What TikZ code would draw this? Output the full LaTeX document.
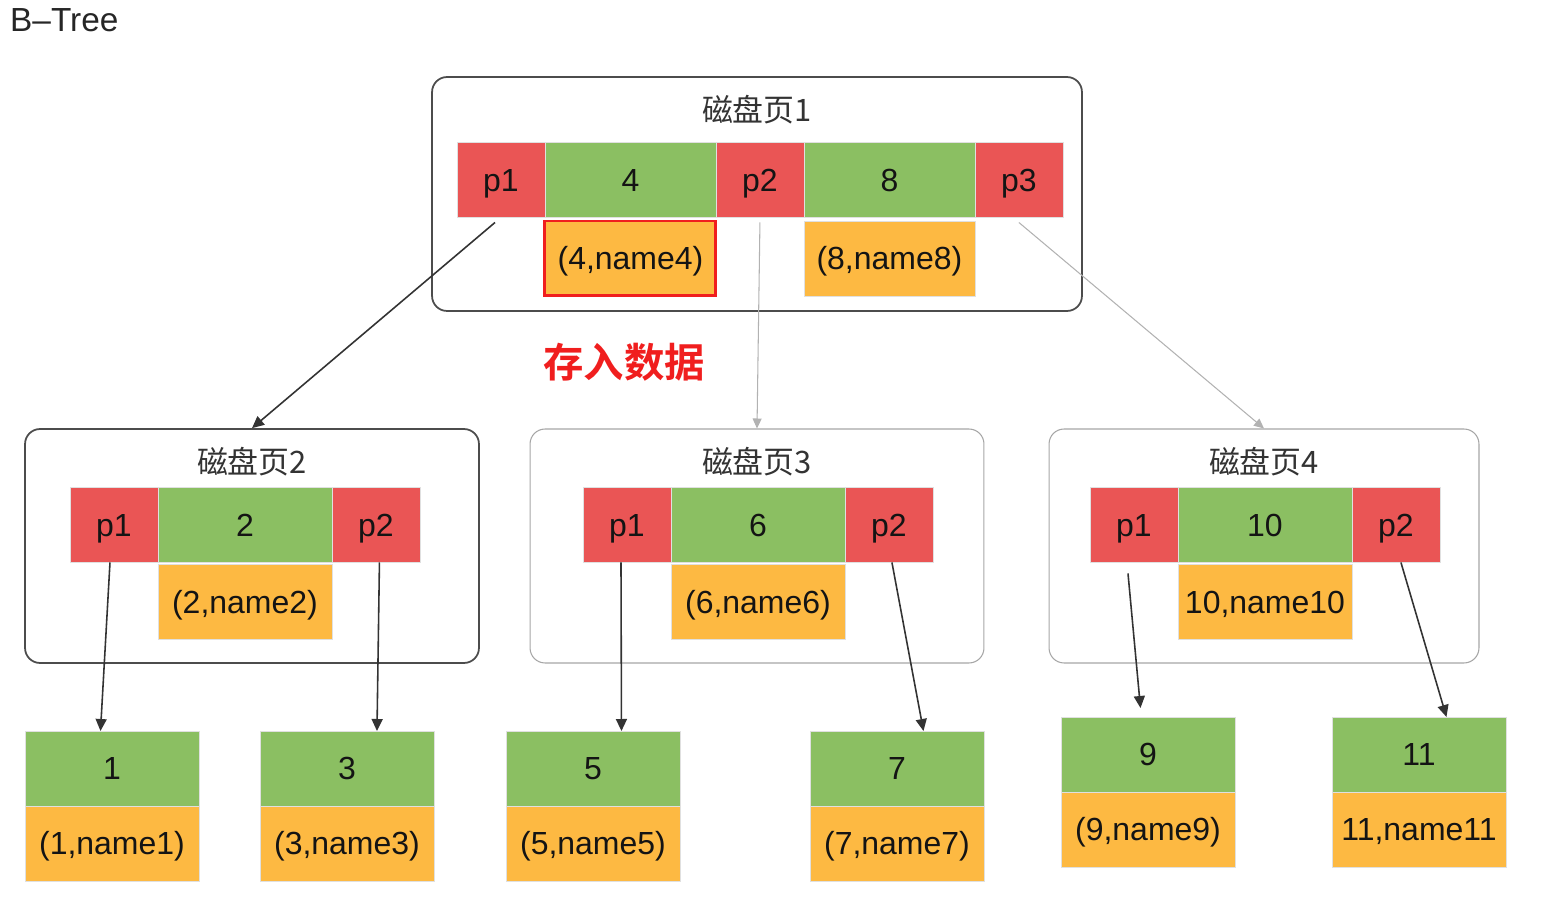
\documentclass[tikz,border=0pt]{standalone}
\usepackage{fontspec}
\setmainfont{Liberation Sans}
\newfontfamily\cjk{Noto Sans CJK SC}
\newfontfamily\cjkbold{Noto Sans CJK SC Bold}
\usetikzlibrary{positioning,arrows.meta}
\definecolor{ptrred}{HTML}{EA5555}
\definecolor{keygreen}{HTML}{8BBF62}
\definecolor{datorange}{HTML}{FDB942}
\definecolor{markred}{HTML}{F01E1E}

\begin{document}
\begin{tikzpicture}[x=0.02cm, y=-0.02cm,
		cell/.style={minimum height=1.5cm, inner sep=0pt, outer sep=0pt, text height=13pt, text depth=0pt, draw=black!12, line width=0.3pt, text=black!92, font=\fontsize{18.2}{20}\selectfont},
		ptr/.style={cell, fill=ptrred, minimum width=1.76cm},
		key/.style={cell, fill=keygreen, minimum width=3.48cm},
		dat/.style={cell, fill=datorange, minimum width=3.48cm},
		page/.style={draw=black!70, line width=1pt, rounded corners=0.3cm, minimum height=4.68cm},
		lightpage/.style={page, draw=black!35, line width=0.6pt},
		ttl/.style={text=black!80, font=\cjk\fontsize{17.6}{20}\selectfont},
		link/.style={draw=black!80, line width=0.9pt, -{Triangle[length=0.24cm, width=0.22cm]}},
		faint/.style={draw=black!30, line width=0.6pt, -{Triangle[length=0.2cm, width=0.18cm]}}]
	\useasboundingbox (0,0) rectangle (1552,908);
	\node[anchor=west, text=black!85, font=\fontsize{19}{21}\selectfont] (title) at (4,20) {B–Tree};

	\node[page, minimum width=13cm] (pg1) at (757,194) {};
	\node[ttl] (t1) at (757,110) {磁盘页1};
	\node[ptr, anchor=west] (a-p1) at (457,180) {p1};
	\node[key, right=0pt of a-p1, minimum width=3.42cm] (a-k1) {4};
	\node[ptr, right=0pt of a-k1] (a-p2) {p2};
	\node[key, right=0pt of a-p2, minimum width=3.42cm] (a-k2) {8};
	\node[ptr, right=0pt of a-k2] (a-p3) {p3};
	\node[dat, below=2pt of a-k1, minimum width=3.42cm, draw=markred, line width=1.7pt] (a-d1) {(4,name4)};
	\node[dat, below=2pt of a-k2, minimum width=3.42cm] (a-d2) {(8,name8)};

	\node[text=markred, font=\cjkbold\fontsize{23}{26}\selectfont] (note) at (624,362) {存入数据};

	\node[page, minimum width=9.08cm] (pg2) at (252,546) {};
	\node[ttl] (t2) at (252,462) {磁盘页2};
	\node[ptr, anchor=west] (b-p1) at (70,525) {p1};
	\node[key, right=0pt of b-p1] (b-k1) {2};
	\node[ptr, right=0pt of b-k1] (b-p2) {p2};
	\node[dat, below=1pt of b-k1] (b-d1) {(2,name2)};

	\node[lightpage, minimum width=9.08cm] (pg3) at (757,546) {};
	\node[ttl] (t3) at (757,462) {磁盘页3};
	\node[ptr, anchor=west] (c-p1) at (583,525) {p1};
	\node[key, right=0pt of c-p1] (c-k1) {6};
	\node[ptr, right=0pt of c-k1] (c-p2) {p2};
	\node[dat, below=1pt of c-k1] (c-d1) {(6,name6)};

	\node[lightpage, minimum width=8.6cm] (pg4) at (1264,546) {};
	\node[ttl] (t4) at (1264,462) {磁盘页4};
	\node[ptr, anchor=west] (d-p1) at (1090,525) {p1};
	\node[key, right=0pt of d-p1] (d-k1) {10};
	\node[ptr, right=0pt of d-k1] (d-p2) {p2};
	\node[dat, below=1pt of d-k1] (d-d1) {10,name10};

	\node[key, anchor=north west] (l1) at (25,731) {1};
	\node[dat, below=0pt of l1] (l1d) {(1,name1)};
	\node[key, anchor=north west] (l3) at (260,731) {3};
	\node[dat, below=0pt of l3] (l3d) {(3,name3)};
	\node[key, anchor=north west] (l5) at (506,731) {5};
	\node[dat, below=0pt of l5] (l5d) {(5,name5)};
	\node[key, anchor=north west] (l7) at (810,731) {7};
	\node[dat, below=0pt of l7] (l7d) {(7,name7)};
	\node[key, anchor=north west] (l9) at (1061,717) {9};
	\node[dat, below=0pt of l9] (l9d) {(9,name9)};
	\node[key, anchor=north west] (l11) at (1332,717) {11};
	\node[dat, below=0pt of l11] (l11d) {11,name11};

	\draw[link] ([xshift=-0.12cm, yshift=-0.1cm]a-p1.south) -- (pg2.north);
	\draw[faint] ([yshift=-0.1cm]a-p2.south) -- (pg3.north);
	\draw[faint] ([yshift=-0.1cm]a-p3.south) -- (pg4.north);
	\draw[link] ([xshift=-0.08cm]b-p1.south) -- ([xshift=-0.23cm]l1.north);
	\draw[link] ([xshift=0.07cm]b-p2.south) -- ([xshift=0.6cm]l3.north);
	\draw[link] ([xshift=-0.12cm]c-p1.south) -- ([xshift=0.57cm]l5.north);
	\draw[link] ([xshift=0.06cm]c-p2.south) -- ([xshift=0.53cm]l7.north);
	\draw[link] ([xshift=-0.12cm, yshift=-0.22cm]d-p1.south) -- ([xshift=-0.15cm, yshift=0.18cm]l9.north);
	\draw[link] ([xshift=0.1cm]d-p2.south) -- ([xshift=0.55cm]l11.north);
\end{tikzpicture}
\end{document}
